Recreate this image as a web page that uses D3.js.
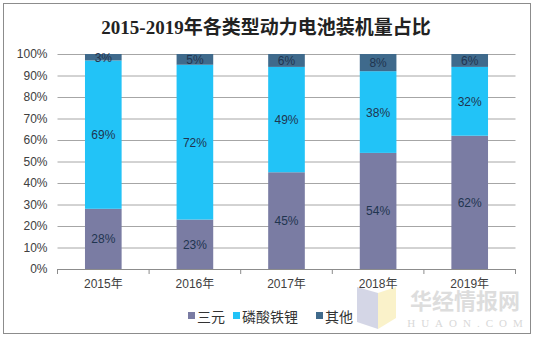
<!DOCTYPE html>
<html>
<head>
<meta charset="utf-8">
<script src="https://cdn.jsdelivr.net/npm/d3@7"></script>
<style>
html,body{margin:0;padding:0;background:#fff;}
svg{display:block;}
</style>
</head>
<body>
<svg id="chart" width="535" height="338"></svg>
<script>
const title = "2015-2019年各类型动力电池装机量占比";
const categories = ["2015年", "2016年", "2017年", "2018年", "2019年"];
const seriesNames = ["三元", "磷酸铁锂", "其他"];
const ternary = [28, 23, 45, 54, 62];
const lfp = [69, 72, 49, 38, 32];
const other = [3, 5, 6, 8, 6];
const yTicks = [0, 10, 20, 30, 40, 50, 60, 70, 80, 90, 100];
const colors = ["#7a7ca3", "#22c3f7", "#3f6a8c"];

(function () {
const svg = d3.select("#chart");
const plotL = 57.5, plotR = 515.5, plotT = 54, plotB = 269;

// frame
svg.append("rect").attr("x", 3.5).attr("y", 3.5).attr("width", 527).attr("height", 330)
  .attr("fill", "#fff").attr("stroke", "#8c8c8c").attr("stroke-width", 1);

svg.append("text").attr("x", 266).attr("y", 34).attr("text-anchor", "middle")
  .attr("font-family", "'Liberation Serif','Noto Sans CJK SC'").attr("font-weight", "bold")
  .attr("font-size", 19).attr("fill", "#222").text(title);

const x = d3.scaleBand().domain(categories).range([plotL, plotR]).paddingInner(0.6).paddingOuter(0.3);
const y = d3.scaleLinear().domain([0, 100]).range([plotB, plotT]);

// gridlines
const yAxis = d3.axisLeft(y).tickValues(yTicks).tickSize(-(plotR - plotL)).tickFormat(d => d + "%").tickPadding(10);
const gy = svg.append("g").attr("transform", `translate(${plotL},0)`).call(yAxis);
gy.select(".domain").remove();
gy.selectAll(".tick line").attr("stroke", "#a6a6a6");
gy.selectAll(".tick text").attr("font-family", "'Liberation Sans', Arial, sans-serif")
  .attr("font-size", 12).attr("fill", "#404040");

// stacks
const rows = categories.map((c, i) => ({cat: c, "三元": ternary[i], "磷酸铁锂": lfp[i], "其他": other[i]}));
const stack = d3.stack().keys(seriesNames)(rows);
const layers = svg.append("g").selectAll("g").data(stack).join("g").attr("fill", (d, i) => colors[i]);
layers.selectAll("rect").data(d => d).join("rect")
  .attr("x", d => x(d.data.cat)).attr("width", x.bandwidth())
  .attr("y", d => y(d[1])).attr("height", d => y(d[0]) - y(d[1]));
layers.selectAll("text").data(d => d.map(v => ({v, key: d.key}))).join("text")
  .attr("x", d => x(d.v.data.cat) + x.bandwidth() / 2)
  .attr("y", d => y((d.v[0] + d.v[1]) / 2) + 4.5)
  .attr("text-anchor", "middle")
  .attr("font-family", "'Liberation Sans', Arial, sans-serif").attr("font-size", 12)
  .attr("fill", "#1f3550")
  .text(d => (d.v[1] - d.v[0]) + "%");

// x axis
const xb = d3.scalePoint().domain(d3.range(categories.length + 1)).range([plotL, plotR]);
const gx = svg.append("g").attr("transform", `translate(0,${plotB})`);
gx.append("line").attr("x1", plotL).attr("x2", plotR).attr("y1", 0.5).attr("y2", 0.5).attr("stroke", "#8c8c8c");
gx.selectAll("line.t").data(xb.domain()).join("line").attr("class", "t")
  .attr("x1", d => xb(d)).attr("x2", d => xb(d)).attr("y1", 0).attr("y2", 5).attr("stroke", "#8c8c8c");

// watermark (behind axis labels)
const wm = svg.append("g").attr("opacity", 0.6);
wm.append("polygon").attr("points", "357,287 378,293 378,329 357,322").attr("fill", "#b9bcd6");
wm.append("polygon").attr("points", "378,293 396,287 396,318 378,329").attr("fill", "#f7eaa8");
wm.append("text").attr("x", 465).attr("y", 309).attr("text-anchor", "middle")
  .attr("font-family", "'Noto Sans CJK SC'").attr("font-size", 22).attr("font-weight", "bold")
  .attr("fill", "#c8c8c8").text("华经情报网");
wm.append("text").attr("x", 468).attr("y", 327).attr("text-anchor", "middle")
  .attr("font-family", "'Liberation Serif'").attr("font-size", 11).attr("letter-spacing", 6)
  .attr("fill", "#c0c0c0").text("HUAON.COM");

const xAxis = d3.axisBottom(x).tickSize(0).tickPadding(10);
const gxl = svg.append("g").attr("transform", `translate(0,${plotB})`).call(xAxis);
gxl.select(".domain").remove();
gxl.selectAll(".tick text").attr("font-family", "'Liberation Sans','Noto Sans CJK SC', sans-serif")
  .attr("font-size", 12).attr("fill", "#404040");

// legend
const legendX = [188, 233, 316];
const lg = svg.append("g").selectAll("g").data(seriesNames).join("g")
  .attr("transform", (d, i) => `translate(${legendX[i]},316)`);
lg.append("rect").attr("x", 0).attr("y", -4).attr("width", 7).attr("height", 7).attr("fill", (d, i) => colors[i]);
lg.append("text").attr("x", 9).attr("y", 5.5).attr("font-family", "'Noto Sans CJK SC'")
  .attr("font-size", 14).attr("fill", "#333").text(d => d);
})();
</script>
</body>
</html>
